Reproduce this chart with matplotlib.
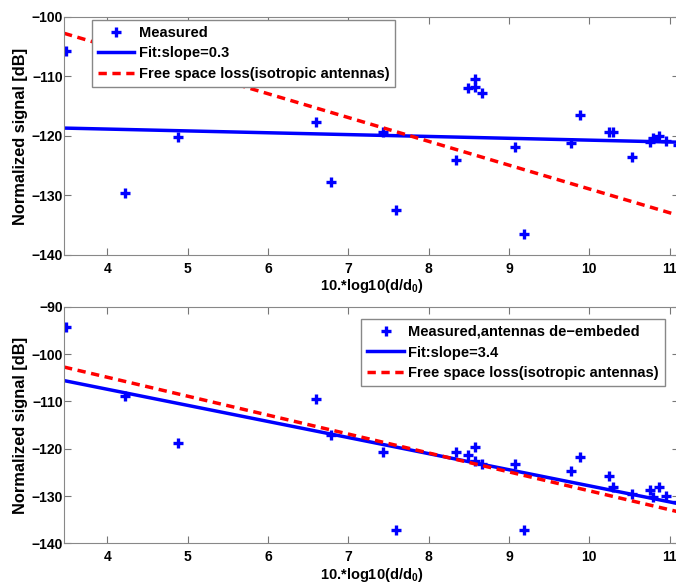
import numpy as np
import matplotlib
matplotlib.use("Agg")
import matplotlib.pyplot as plt

plt.rcParams['font.family'] = ['Liberation Sans', 'DejaVu Sans']
plt.rcParams['font.weight'] = 'bold'
plt.rcParams['mathtext.fontset'] = 'custom'
plt.rcParams['mathtext.rm'] = 'Liberation Sans:bold'
plt.rcParams['mathtext.it'] = 'Liberation Sans:bold'

# distance, 10*log10(d/d0)
dist = [3.48, 4.22, 4.88, 6.60, 6.79, 7.43, 7.59, 8.34, 8.49, 8.58, 8.58, 8.67,
        9.07, 9.19, 9.77, 9.89, 10.24, 10.29, 10.53, 10.76, 10.79, 10.87, 10.95, 11.10]
# measured signal [dB]
meas = [-105.7, -129.5, -120.2, -117.6, -127.7, -119.4, -132.4, -124.1, -112.0, -110.4, -111.7, -112.7,
        -121.8, -136.5, -121.1, -116.4, -119.4, -119.4, -123.6, -121.0, -120.3, -120.0, -120.8, -121.6]
# measured, antennas de-embedded [dB]
deemb = [-94.3, -108.9, -118.8, -109.6, -117.1, -120.8, -137.1, -120.8, -121.3, -119.6, -122.5, -123.2,
         -123.2, -137.2, -124.8, -121.7, -125.7, -128.0, -129.6, -128.8, -130.2, -128.1, -130.1, -131.3]

# line fits (slope, intercept)
fit_top = (-0.31, -117.6)
fit_bot = (-3.4, -93.84)
fsl = (-4.0, -88.9)

xlim = (3.46, 11.12)

fig = plt.figure(figsize=(6.76, 5.87), dpi=100)
ax1 = fig.add_axes([0.0947, 0.5656, 0.91, 0.4055])
ax2 = fig.add_axes([0.0947, 0.0744, 0.91, 0.403])

xl = np.linspace(xlim[0], xlim[1], 50)

def style(ax, ylim, yticks):
    ax.set_xlim(xlim)
    ax.set_ylim(ylim)
    ax.set_yticks(yticks)
    ax.set_xticks(range(4, 12))
    ax.tick_params(direction='in', top=True, right=True, length=5, color='#777777', labelsize=10)
    ax.tick_params(axis='x', pad=5)
    ax.tick_params(axis='y', pad=1)
    for s in ax.spines.values():
        s.set_color('#888888')
    ax.set_ylabel('Normalized signal [dB]', fontsize=11.8, fontweight='bold', labelpad=2)
    ax.set_xlabel('10.*log10(d/d$_0$)', fontsize=10.5, fontweight='bold', labelpad=1)

leg_kw = dict(fontsize=10.5, handlelength=2.5, fancybox=False, edgecolor='#888888', framealpha=1,
              borderaxespad=0.2, labelspacing=0.45, handletextpad=0.3, borderpad=0.4)

ax1.plot(dist, meas, '+', color='blue', ms=7, mew=2.4, label='Measured')
ax1.plot(xl, fit_top[0] * xl + fit_top[1], '-', color='blue', lw=2.5, label='Fit:slope=0.3')
ax1.plot(xl, fsl[0] * xl + fsl[1], '--', color='red', lw=2.5, dashes=(2.4, 1.6),
         label='Free space loss(isotropic antennas)')
style(ax1, (-140, -100), range(-140, -99, 10))
ax1.legend(loc='upper left', bbox_to_anchor=(0.041, 1.0), **leg_kw)

ax2.plot(dist, deemb, '+', color='blue', ms=7, mew=2.4, label='Measured,antennas de\u2212embeded')
ax2.plot(xl, fit_bot[0] * xl + fit_bot[1], '-', color='blue', lw=2.5, label='Fit:slope=3.4')
ax2.plot(xl, fsl[0] * xl + fsl[1], '--', color='red', lw=2.5, dashes=(2.4, 1.6),
         label='Free space loss(isotropic antennas)')
style(ax2, (-140, -90), range(-140, -89, 10))
ax2.legend(loc='upper right', bbox_to_anchor=(0.981, 0.96), **leg_kw)

fig.savefig('out.png', dpi=100)
